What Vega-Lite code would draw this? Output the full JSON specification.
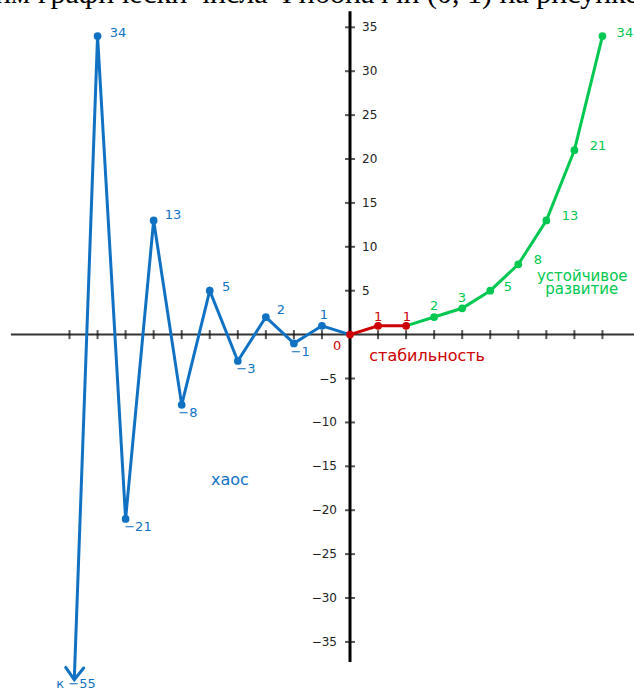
{
  "$schema": "https://vega.github.io/schema/vega-lite/v6.json",
  "width": 634,
  "height": 691,
  "padding": 0,
  "autosize": {"type": "fit", "contains": "padding"},
  "config": {"view": {"stroke": null}, "font": "DejaVu Sans"},
  "datasets": {
    "fib": [
      {"x": -9.83, "y": -39.3, "series": "blue", "dot": false, "arrow": true},
      {"x": -9, "y": 34, "series": "blue", "dot": true, "arrow": false},
      {"x": -8, "y": -21, "series": "blue", "dot": true, "arrow": false},
      {"x": -7, "y": 13, "series": "blue", "dot": true, "arrow": false},
      {"x": -6, "y": -8, "series": "blue", "dot": true, "arrow": false},
      {"x": -5, "y": 5, "series": "blue", "dot": true, "arrow": false},
      {"x": -4, "y": -3, "series": "blue", "dot": true, "arrow": false},
      {"x": -3, "y": 2, "series": "blue", "dot": true, "arrow": false},
      {"x": -2, "y": -1, "series": "blue", "dot": true, "arrow": false},
      {"x": -1, "y": 1, "series": "blue", "dot": true, "arrow": false},
      {"x": 0, "y": 0, "series": "blue", "dot": false, "arrow": false},
      {"x": 0, "y": 0, "series": "red", "dot": true, "arrow": false},
      {"x": 1, "y": 1, "series": "red", "dot": true, "arrow": false},
      {"x": 2, "y": 1, "series": "red", "dot": true, "arrow": false},
      {"x": 2, "y": 1, "series": "green", "dot": false, "arrow": false},
      {"x": 3, "y": 2, "series": "green", "dot": true, "arrow": false},
      {"x": 4, "y": 3, "series": "green", "dot": true, "arrow": false},
      {"x": 5, "y": 5, "series": "green", "dot": true, "arrow": false},
      {"x": 6, "y": 8, "series": "green", "dot": true, "arrow": false},
      {"x": 7, "y": 13, "series": "green", "dot": true, "arrow": false},
      {"x": 8, "y": 21, "series": "green", "dot": true, "arrow": false},
      {"x": 9, "y": 34, "series": "green", "dot": true, "arrow": false}
    ],
    "labels": [
      {"text": "34", "x": -8.27, "y": 34.35, "series": "blue", "kind": "num"},
      {"text": "13", "x": -6.31, "y": 13.6, "series": "blue", "kind": "num"},
      {"text": "5", "x": -4.42, "y": 5.42, "series": "blue", "kind": "num"},
      {"text": "2", "x": -2.46, "y": 2.8, "series": "blue", "kind": "num"},
      {"text": "1", "x": -0.93, "y": 2.23, "series": "blue", "kind": "num"},
      {"text": "−21", "x": -7.56, "y": -21.9, "series": "blue", "kind": "num"},
      {"text": "−8", "x": -5.78, "y": -8.93, "series": "blue", "kind": "num"},
      {"text": "−3", "x": -3.71, "y": -3.92, "series": "blue", "kind": "num"},
      {"text": "−1", "x": -1.78, "y": -1.98, "series": "blue", "kind": "num"},
      {"text": "к −55", "x": -9.77, "y": -39.8, "series": "blue", "kind": "num"},
      {"text": "хаос", "x": -4.28, "y": -16.56, "series": "blue", "kind": "word"},
      {"text": "1", "x": 1.0, "y": 2.0, "series": "red", "kind": "num"},
      {"text": "1", "x": 2.03, "y": 2.0, "series": "red", "kind": "num"},
      {"text": "0", "x": -0.46, "y": -1.3, "series": "red", "kind": "num"},
      {"text": "стабильность", "x": 2.75, "y": -2.44, "series": "red", "kind": "word"},
      {"text": "2", "x": 3.0, "y": 3.3, "series": "green", "kind": "num"},
      {"text": "3", "x": 3.99, "y": 4.2, "series": "green", "kind": "num"},
      {"text": "5", "x": 5.63, "y": 5.46, "series": "green", "kind": "num"},
      {"text": "8", "x": 6.7, "y": 8.5, "series": "green", "kind": "num"},
      {"text": "13", "x": 7.84, "y": 13.5, "series": "green", "kind": "num"},
      {"text": "21", "x": 8.84, "y": 21.45, "series": "green", "kind": "num"},
      {"text": "34", "x": 9.8, "y": 34.35, "series": "green", "kind": "num"},
      {"text": "устойчивое", "x": 8.28, "y": 6.7, "series": "green", "kind": "word2"},
      {"text": "развитие", "x": 8.26, "y": 5.15, "series": "green", "kind": "word2"}
    ],
    "yticks": [
      {"v": 35, "label": "35"}, {"v": 30, "label": "30"}, {"v": 25, "label": "25"},
      {"v": 20, "label": "20"}, {"v": 15, "label": "15"}, {"v": 10, "label": "10"},
      {"v": 5, "label": "5"}, {"v": -5, "label": "−5"}, {"v": -10, "label": "−10"},
      {"v": -15, "label": "−15"}, {"v": -20, "label": "−20"}, {"v": -25, "label": "−25"},
      {"v": -30, "label": "−30"}, {"v": -35, "label": "−35"}
    ],
    "xticks": [
      {"v": -10}, {"v": -9}, {"v": -8}, {"v": -7}, {"v": -6}, {"v": -5}, {"v": -4},
      {"v": -3}, {"v": -2}, {"v": -1}, {"v": 1}, {"v": 2}, {"v": 3}, {"v": 4},
      {"v": 5}, {"v": 6}, {"v": 7}, {"v": 8}, {"v": 9}
    ]
  },
  "layer": [
    {
      "data": {"values": [{"text": "Изобразим", "x": -11.41, "y": 38.75}]},
      "mark": {"type": "text", "align": "right", "baseline": "middle", "font": "Liberation Serif", "fontSize": 30, "color": "#000", "clip": true},
      "encoding": {
        "x": {"field": "x", "type": "quantitative", "scale": {"domain": [-12.478, 10.125], "nice": false, "zero": false}, "axis": null},
        "y": {"field": "y", "type": "quantitative", "scale": {"domain": [-40.59, 38.11], "nice": false, "zero": false}, "axis": null},
        "text": {"field": "text"}
      }
    },
    {
      "data": {"values": [{"text": "графически числа Фибоначчи (0, 1) на рисунке", "x": -11.12, "y": 38.75}]},
      "mark": {"type": "text", "align": "left", "baseline": "middle", "font": "Liberation Serif", "fontSize": 30, "color": "#000", "clip": true},
      "encoding": {
        "x": {"field": "x", "type": "quantitative", "axis": null},
        "y": {"field": "y", "type": "quantitative", "axis": null},
        "text": {"field": "text"}
      }
    },
    {
      "data": {"values": [{"x1": -12.09, "x2": 10.125, "y": 0}]},
      "mark": {"type": "rule", "color": "#333", "strokeWidth": 2, "clip": true},
      "encoding": {
        "x": {"field": "x1", "type": "quantitative", "axis": null},
        "x2": {"field": "x2"},
        "y": {"field": "y", "type": "quantitative", "axis": null}
      }
    },
    {
      "data": {"values": [{"x": 0, "y1": -37.3, "y2": 36.83}]},
      "mark": {"type": "rule", "color": "#000", "strokeWidth": 3},
      "encoding": {
        "x": {"field": "x", "type": "quantitative", "axis": null},
        "y": {"field": "y1", "type": "quantitative", "axis": null},
        "y2": {"field": "y2"}
      }
    },
    {
      "data": {"name": "xticks"},
      "mark": {"type": "tick", "orient": "vertical", "color": "#111", "size": 9, "thickness": 2},
      "encoding": {
        "x": {"field": "v", "type": "quantitative", "axis": null},
        "y": {"datum": 0, "type": "quantitative", "axis": null}
      }
    },
    {
      "data": {"name": "yticks"},
      "mark": {"type": "tick", "orient": "horizontal", "color": "#111", "size": 10, "thickness": 2},
      "encoding": {
        "x": {"datum": 0, "type": "quantitative", "axis": null},
        "y": {"field": "v", "type": "quantitative", "axis": null}
      }
    },
    {
      "data": {"name": "yticks"},
      "transform": [{"filter": "datum.v > 0"}],
      "mark": {"type": "text", "align": "left", "baseline": "middle", "fontSize": 12, "color": "#222", "dx": 12},
      "encoding": {
        "x": {"datum": 0, "type": "quantitative", "axis": null},
        "y": {"field": "v", "type": "quantitative", "axis": null},
        "text": {"field": "label"}
      }
    },
    {
      "data": {"name": "yticks"},
      "transform": [{"filter": "datum.v < 0"}],
      "mark": {"type": "text", "align": "right", "baseline": "middle", "fontSize": 12, "color": "#222", "dx": -13},
      "encoding": {
        "x": {"datum": 0, "type": "quantitative", "axis": null},
        "y": {"field": "v", "type": "quantitative", "axis": null},
        "text": {"field": "label"}
      }
    },
    {
      "data": {"name": "fib"},
      "mark": {"type": "line", "strokeWidth": 3, "strokeJoin": "miter"},
      "encoding": {
        "x": {"field": "x", "type": "quantitative", "axis": null},
        "y": {"field": "y", "type": "quantitative", "axis": null},
        "color": {"field": "series", "type": "nominal", "scale": {"domain": ["blue", "red", "green"], "range": ["#1172c4", "#cc0000", "#00c850"]}, "legend": null},
        "detail": {"field": "series"}
      }
    },
    {
      "data": {"name": "fib"},
      "transform": [{"filter": "datum.dot"}],
      "mark": {"type": "point", "filled": true, "opacity": 1, "size": 60},
      "encoding": {
        "x": {"field": "x", "type": "quantitative", "axis": null},
        "y": {"field": "y", "type": "quantitative", "axis": null},
        "color": {"field": "series", "type": "nominal", "legend": null}
      }
    },
    {
      "data": {"name": "fib"},
      "transform": [{"filter": "datum.arrow"}],
      "mark": {"type": "point", "filled": false, "opacity": 1, "shape": "M-1,-1.33L0,0L1,-1.33", "size": 324, "strokeWidth": 3, "angle": 2, "strokeCap": "round"},
      "encoding": {
        "x": {"field": "x", "type": "quantitative", "axis": null},
        "y": {"field": "y", "type": "quantitative", "axis": null},
        "color": {"field": "series", "type": "nominal", "legend": null}
      }
    },
    {
      "data": {"name": "labels"},
      "transform": [{"filter": "datum.kind == 'num'"}],
      "mark": {"type": "text", "align": "center", "baseline": "middle", "fontSize": 13, "clip": true},
      "encoding": {
        "x": {"field": "x", "type": "quantitative", "axis": null},
        "y": {"field": "y", "type": "quantitative", "axis": null},
        "text": {"field": "text"},
        "color": {"field": "series", "type": "nominal", "legend": null}
      }
    },
    {
      "data": {"name": "labels"},
      "transform": [{"filter": "datum.kind == 'word'"}],
      "mark": {"type": "text", "align": "center", "baseline": "middle", "fontSize": 16, "clip": true},
      "encoding": {
        "x": {"field": "x", "type": "quantitative", "axis": null},
        "y": {"field": "y", "type": "quantitative", "axis": null},
        "text": {"field": "text"},
        "color": {"field": "series", "type": "nominal", "legend": null}
      }
    },
    {
      "data": {"name": "labels"},
      "transform": [{"filter": "datum.kind == 'word2'"}],
      "mark": {"type": "text", "align": "center", "baseline": "middle", "fontSize": 15, "clip": true},
      "encoding": {
        "x": {"field": "x", "type": "quantitative", "axis": null},
        "y": {"field": "y", "type": "quantitative", "axis": null},
        "text": {"field": "text"},
        "color": {"field": "series", "type": "nominal", "legend": null}
      }
    }
  ]
}
